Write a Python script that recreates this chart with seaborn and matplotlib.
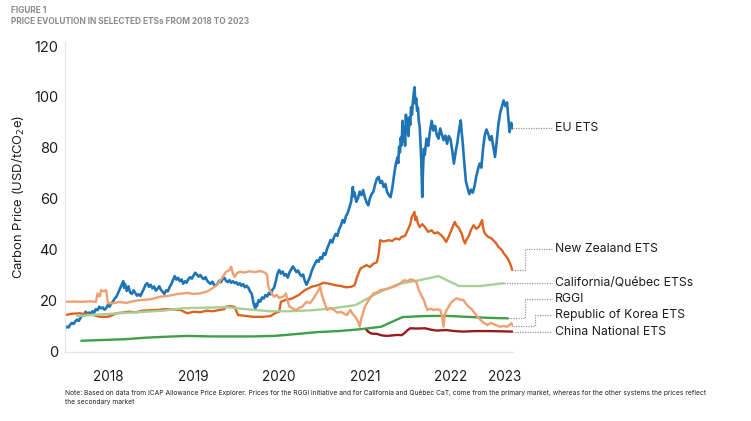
import pandas as pd
import matplotlib
matplotlib.use("Agg")
import matplotlib.pyplot as plt
import matplotlib.transforms as mtransforms
import seaborn as sns

# Data (decimal year, USD/tCO2e)
eu_points = [
    (2018.00, 9.0), (2018.02, 9.8), (2018.04, 9.4), (2018.06, 10.5), (2018.08, 11.2), (2018.10, 10.8),
    (2018.12, 11.8), (2018.14, 12.5), (2018.16, 12.0), (2018.18, 13.2), (2018.20, 14.5), (2018.22, 14.0),
    (2018.24, 15.6), (2018.26, 14.9), (2018.28, 15.3), (2018.30, 14.6), (2018.32, 15.8), (2018.34, 15.2),
    (2018.36, 16.6), (2018.38, 16.2), (2018.40, 17.6), (2018.42, 16.9), (2018.44, 17.3), (2018.46, 16.4),
    (2018.48, 17.0), (2018.50, 18.3), (2018.52, 17.6), (2018.54, 18.9), (2018.56, 19.6), (2018.58, 20.8),
    (2018.60, 21.5), (2018.62, 23.0), (2018.64, 24.5), (2018.66, 26.0), (2018.68, 27.6), (2018.69, 25.0),
    (2018.70, 26.5), (2018.72, 23.8), (2018.74, 25.6), (2018.76, 23.2), (2018.78, 22.6), (2018.80, 24.0),
    (2018.82, 23.0), (2018.84, 21.9), (2018.86, 22.5), (2018.88, 21.8), (2018.90, 23.2), (2018.92, 24.6),
    (2018.94, 26.2), (2018.96, 26.8), (2018.98, 25.4), (2019.00, 26.2), (2019.02, 24.8), (2019.04, 25.5),
    (2019.06, 23.9), (2019.08, 24.6), (2019.10, 25.6), (2019.12, 24.2), (2019.14, 23.4), (2019.16, 22.6),
    (2019.18, 24.0), (2019.20, 23.6), (2019.22, 25.2), (2019.24, 26.4), (2019.26, 28.0), (2019.28, 29.6),
    (2019.30, 28.2), (2019.32, 28.9), (2019.34, 27.6), (2019.36, 28.3), (2019.38, 26.6), (2019.40, 27.6),
    (2019.42, 27.0), (2019.44, 28.4), (2019.46, 29.2), (2019.48, 28.6), (2019.50, 29.8), (2019.52, 30.9),
    (2019.54, 30.2), (2019.56, 29.4), (2019.58, 30.0), (2019.60, 29.0), (2019.62, 28.4), (2019.64, 29.2),
    (2019.66, 27.8), (2019.68, 27.0), (2019.70, 26.6), (2019.72, 27.4), (2019.74, 26.2), (2019.76, 25.8),
    (2019.78, 26.6), (2019.80, 27.8), (2019.82, 27.2), (2019.84, 28.4), (2019.86, 28.9), (2019.88, 27.8),
    (2019.90, 27.2), (2019.92, 28.0), (2019.94, 27.0), (2019.96, 27.6), (2019.98, 26.8), (2020.00, 27.2),
    (2020.02, 26.2), (2020.04, 26.8), (2020.06, 25.8), (2020.08, 26.4), (2020.10, 25.2), (2020.12, 25.8),
    (2020.14, 25.0), (2020.16, 23.6), (2020.18, 22.6), (2020.20, 19.0), (2020.22, 16.9), (2020.23, 18.6),
    (2020.24, 17.8), (2020.26, 20.2), (2020.28, 19.6), (2020.30, 21.2), (2020.32, 20.8), (2020.34, 22.2),
    (2020.36, 21.6), (2020.38, 23.0), (2020.40, 22.4), (2020.42, 24.2), (2020.44, 25.0), (2020.46, 27.5),
    (2020.48, 30.5), (2020.50, 32.0), (2020.52, 30.6), (2020.54, 31.4), (2020.56, 29.8), (2020.58, 30.4),
    (2020.60, 29.0), (2020.62, 31.0), (2020.64, 32.2), (2020.66, 33.4), (2020.68, 32.4), (2020.70, 31.2),
    (2020.72, 31.8), (2020.74, 30.4), (2020.76, 29.6), (2020.78, 30.2), (2020.80, 27.6), (2020.82, 26.2),
    (2020.84, 27.8), (2020.86, 29.4), (2020.88, 31.6), (2020.90, 33.2), (2020.92, 34.6), (2020.94, 35.8),
    (2020.96, 35.2), (2020.98, 37.0), (2021.00, 36.4), (2021.02, 38.6), (2021.04, 38.0), (2021.06, 40.4),
    (2021.08, 42.0), (2021.10, 43.8), (2021.12, 42.8), (2021.14, 44.8), (2021.16, 46.2), (2021.18, 45.4),
    (2021.20, 48.0), (2021.22, 49.4), (2021.24, 51.6), (2021.26, 50.6), (2021.28, 53.2), (2021.30, 54.4),
    (2021.32, 56.6), (2021.34, 58.8), (2021.36, 64.6), (2021.37, 61.0), (2021.38, 62.4), (2021.40, 58.8),
    (2021.42, 60.2), (2021.44, 62.8), (2021.46, 61.4), (2021.48, 63.4), (2021.50, 60.6), (2021.52, 58.6),
    (2021.54, 57.4), (2021.56, 60.2), (2021.58, 61.8), (2021.60, 62.8), (2021.62, 65.6), (2021.64, 67.8),
    (2021.66, 68.6), (2021.68, 66.2), (2021.70, 67.0), (2021.72, 64.6), (2021.74, 65.8), (2021.76, 62.6),
    (2021.78, 61.4), (2021.80, 60.6), (2021.82, 64.0), (2021.84, 69.0), (2021.86, 73.4), (2021.88, 76.2),
    (2021.89, 74.0), (2021.90, 80.4), (2021.91, 78.2), (2021.92, 84.0), (2021.93, 81.0), (2021.94, 90.6),
    (2021.95, 82.4), (2021.96, 88.2), (2021.97, 80.8), (2021.98, 93.0), (2021.99, 86.0), (2022.00, 91.4),
    (2022.01, 84.6), (2022.02, 92.0), (2022.03, 89.0), (2022.04, 96.0), (2022.05, 93.0), (2022.06, 97.6),
    (2022.07, 101.0), (2022.08, 103.8), (2022.09, 97.4), (2022.10, 99.4), (2022.11, 94.6), (2022.12, 95.8),
    (2022.13, 90.6), (2022.14, 88.4), (2022.15, 82.0), (2022.16, 74.0), (2022.17, 60.7), (2022.18, 72.0),
    (2022.19, 79.6), (2022.20, 77.2), (2022.22, 83.6), (2022.24, 80.8), (2022.26, 86.4), (2022.28, 90.6),
    (2022.30, 86.8), (2022.32, 88.6), (2022.34, 85.0), (2022.36, 83.6), (2022.38, 87.6), (2022.40, 85.2),
    (2022.42, 83.0), (2022.44, 84.8), (2022.46, 81.6), (2022.48, 84.6), (2022.50, 83.4), (2022.52, 79.0),
    (2022.54, 73.8), (2022.56, 78.4), (2022.58, 82.0), (2022.60, 87.0), (2022.62, 90.8), (2022.63, 86.4),
    (2022.64, 83.0), (2022.66, 74.6), (2022.68, 66.8), (2022.70, 64.2), (2022.72, 61.8), (2022.74, 63.6),
    (2022.76, 62.4), (2022.78, 64.8), (2022.80, 68.6), (2022.82, 71.4), (2022.84, 73.8), (2022.86, 72.2),
    (2022.88, 79.6), (2022.90, 85.0), (2022.92, 87.2), (2022.94, 85.4), (2022.96, 83.0), (2022.98, 84.6),
    (2023.00, 80.6), (2023.02, 76.4), (2023.04, 82.6), (2023.06, 89.4), (2023.08, 93.6), (2023.10, 96.2),
    (2023.12, 98.6), (2023.14, 96.4), (2023.16, 97.8), (2023.18, 90.0), (2023.19, 86.2), (2023.21, 89.8),
    (2023.23, 87.6),
]

nz_points = [
    (2018.00, 14.3), (2018.08, 14.8), (2018.17, 15.0), (2018.25, 14.6), (2018.33, 14.3), (2018.41, 13.6),
    (2018.50, 13.6), (2018.55, 14.2), (2018.60, 15.0), (2018.68, 15.3), (2018.75, 15.6), (2018.83, 15.4),
    (2018.90, 16.0), (2019.00, 16.2), (2019.08, 16.3), (2019.17, 16.6), (2019.25, 16.5), (2019.35, 16.3),
    (2019.40, 15.4), (2019.43, 15.0), (2019.50, 15.6), (2019.58, 15.4), (2019.65, 16.0), (2019.73, 15.8),
    (2019.80, 16.3), (2019.86, 16.6), (2019.88, 17.6), (2019.93, 17.8), (2019.98, 17.5), (2020.02, 14.3),
    (2020.10, 14.0), (2020.20, 13.6), (2020.30, 13.6), (2020.40, 13.9), (2020.45, 15.0), (2020.50, 15.6),
    (2020.52, 19.5), (2020.57, 20.2), (2020.65, 20.8), (2020.73, 22.2), (2020.80, 24.1), (2020.88, 25.4),
    (2020.96, 26.1), (2021.02, 27.0), (2021.10, 26.5), (2021.16, 26.0), (2021.22, 25.7), (2021.28, 25.2),
    (2021.34, 25.4), (2021.38, 26.0), (2021.41, 29.3), (2021.45, 32.6), (2021.52, 33.9), (2021.56, 33.2),
    (2021.60, 34.5), (2021.64, 35.0), (2021.66, 38.0), (2021.68, 43.7), (2021.72, 43.2), (2021.78, 43.7),
    (2021.82, 43.4), (2021.86, 44.4), (2021.90, 44.0), (2021.93, 45.0), (2021.97, 45.4), (2022.00, 47.6),
    (2022.03, 50.0), (2022.05, 52.9), (2022.08, 54.8), (2022.09, 51.6), (2022.10, 53.0), (2022.12, 50.3),
    (2022.14, 48.9), (2022.17, 50.0), (2022.20, 48.9), (2022.24, 47.0), (2022.28, 47.6), (2022.31, 46.4),
    (2022.35, 46.8), (2022.39, 45.7), (2022.42, 44.6), (2022.45, 43.0), (2022.48, 45.2), (2022.51, 47.6),
    (2022.55, 50.9), (2022.57, 49.4), (2022.59, 48.9), (2022.63, 46.4), (2022.65, 44.0), (2022.67, 42.4),
    (2022.69, 44.2), (2022.71, 45.0), (2022.74, 47.8), (2022.77, 49.6), (2022.80, 48.2), (2022.83, 48.9),
    (2022.85, 50.2), (2022.87, 51.6), (2022.88, 48.6), (2022.90, 46.4), (2022.94, 45.0), (2022.97, 44.6),
    (2023.00, 43.7), (2023.03, 42.6), (2023.06, 41.1), (2023.10, 39.8), (2023.12, 38.6), (2023.14, 37.8),
    (2023.17, 36.4), (2023.19, 35.0), (2023.21, 33.2), (2023.22, 32.0),
]

ca_points = [
    (2018.14, 13.9), (2018.39, 14.5), (2018.64, 15.0), (2018.89, 15.5), (2019.14, 16.0), (2019.39, 17.0),
    (2019.64, 17.2), (2019.89, 17.4), (2020.14, 16.5), (2020.39, 15.8), (2020.64, 15.8), (2020.89, 16.2),
    (2021.14, 17.0), (2021.39, 18.2), (2021.64, 22.8), (2021.89, 26.5), (2022.14, 28.0), (2022.36, 29.6),
    (2022.60, 25.7), (2022.85, 25.7), (2023.12, 26.8),
]

rggi_points = [
    (2018.19, 4.2), (2018.44, 4.5), (2018.69, 4.8), (2018.94, 5.4), (2019.19, 5.8), (2019.44, 6.1),
    (2019.69, 5.9), (2019.94, 5.9), (2020.19, 5.9), (2020.44, 6.1), (2020.69, 6.8), (2020.94, 7.6),
    (2021.19, 8.0), (2021.44, 8.7), (2021.69, 9.7), (2021.94, 13.5), (2022.19, 13.9), (2022.44, 14.0),
    (2022.69, 13.6), (2022.94, 13.2), (2023.17, 13.0),
]

kr_points = [
    (2018.00, 19.5), (2018.10, 19.6), (2018.20, 19.5), (2018.30, 19.7), (2018.36, 19.5), (2018.38, 22.8),
    (2018.40, 21.6), (2018.41, 22.0), (2018.42, 24.1), (2018.45, 23.6), (2018.48, 24.1), (2018.50, 19.0),
    (2018.55, 18.9), (2018.63, 19.4), (2018.72, 19.1), (2018.80, 19.8), (2018.88, 20.2), (2019.00, 20.5),
    (2019.11, 21.5), (2019.20, 21.8), (2019.30, 22.5), (2019.43, 23.0), (2019.50, 22.6), (2019.58, 22.8),
    (2019.66, 23.6), (2019.72, 24.8), (2019.77, 26.0), (2019.82, 28.2), (2019.88, 31.3), (2019.92, 32.0),
    (2019.94, 33.3), (2019.96, 30.6), (2019.98, 29.3), (2020.01, 30.8), (2020.04, 31.3), (2020.10, 31.0),
    (2020.15, 31.5), (2020.22, 31.2), (2020.28, 31.6), (2020.33, 31.0), (2020.36, 30.0), (2020.37, 26.4),
    (2020.38, 24.8), (2020.41, 23.0), (2020.44, 21.5), (2020.47, 22.2), (2020.50, 21.0), (2020.55, 21.6),
    (2020.58, 22.8), (2020.60, 19.6), (2020.62, 17.6), (2020.66, 16.8), (2020.70, 16.3), (2020.74, 17.2),
    (2020.77, 17.6), (2020.82, 19.5), (2020.86, 19.0), (2020.90, 20.8), (2020.94, 22.9), (2020.96, 24.0),
    (2020.98, 25.4), (2021.00, 22.0), (2021.02, 20.0), (2021.06, 16.3), (2021.10, 17.0), (2021.14, 16.3),
    (2021.18, 15.2), (2021.22, 15.6), (2021.26, 14.8), (2021.29, 14.3), (2021.33, 16.3), (2021.36, 14.6),
    (2021.39, 13.6), (2021.42, 11.8), (2021.44, 9.7), (2021.46, 13.0), (2021.48, 15.2), (2021.50, 17.6),
    (2021.55, 20.4), (2021.60, 22.8), (2021.64, 23.2), (2021.68, 24.1), (2021.76, 24.6), (2021.84, 25.4),
    (2021.90, 26.4), (2021.96, 28.0), (2022.00, 27.6), (2022.03, 28.3), (2022.07, 28.0), (2022.10, 27.4),
    (2022.13, 24.1), (2022.16, 22.0), (2022.19, 20.2), (2022.21, 18.0), (2022.23, 16.3), (2022.27, 16.8),
    (2022.30, 16.3), (2022.34, 16.6), (2022.38, 16.3), (2022.40, 14.0), (2022.42, 9.7), (2022.43, 14.0),
    (2022.45, 16.0), (2022.48, 17.6), (2022.50, 18.9), (2022.54, 20.2), (2022.57, 20.9), (2022.61, 20.4),
    (2022.65, 20.2), (2022.68, 18.8), (2022.71, 17.6), (2022.74, 16.8), (2022.77, 15.6), (2022.81, 13.8),
    (2022.85, 12.4), (2022.89, 11.2), (2022.93, 10.4), (2022.97, 11.2), (2023.00, 10.8), (2023.04, 10.2),
    (2023.08, 9.7), (2023.12, 10.0), (2023.16, 9.7), (2023.19, 10.4), (2023.21, 11.1), (2023.23, 10.0),
]

cn_points = [
    (2021.52, 8.4), (2021.55, 7.5), (2021.58, 7.0), (2021.64, 6.9), (2021.70, 6.3), (2021.76, 6.1),
    (2021.82, 6.3), (2021.88, 6.5), (2021.93, 6.4), (2021.96, 7.1), (2022.00, 8.4), (2022.03, 9.1),
    (2022.10, 9.0), (2022.20, 9.1), (2022.28, 8.5), (2022.34, 8.2), (2022.45, 8.4), (2022.55, 8.0),
    (2022.64, 7.8), (2022.80, 8.0), (2022.95, 8.0), (2023.10, 7.9), (2023.22, 7.8),
]

year_ticks = [2019, 2020, 2021, 2022, 2023]
year_label_pos = [2018.5, 2019.5, 2020.5, 2021.5, 2022.5, 2023.13]
year_labels = ["2018", "2019", "2020", "2021", "2022", "2023"]

# name, points, colour, label value, elbow x (axes fraction, None = straight connector)
series = [
    ("EU ETS", eu_points, "#1f74b6", 86.1, None),
    ("New Zealand ETS", nz_points, "#dc6423", 40.2, 1.027),
    ("California/Québec ETSs", ca_points, "#a9cf97", 27.3, None),
    ("RGGI", rggi_points, "#3f9f4a", 20.6, 1.027),
    ("Republic of Korea ETS", kr_points, "#eea071", 14.5, 1.049),
    ("China National ETS", cn_points, "#981b1e", 8.0, None),
]

sns.set_theme(style="white")
plt.rcParams['font.family'] = ['Inter', 'DejaVu Sans']

fig = plt.figure(figsize=(7.51, 4.21), dpi=100)
ax = fig.add_axes([0.0866, 0.164, 0.5965, 0.737])

x0, x1 = 2018.0, 2023.23
for name, pts, color, lab_y, elbow in series:
    df = pd.DataFrame(pts, columns=["year", "price"])
    lw = 1.9 if name == "EU ETS" else 1.7
    sns.lineplot(data=df, x="year", y="price", color=color, linewidth=lw,
                 estimator=None, ax=ax)

ax.set_xlim(x0, x1)
ax.set_ylim(-0.2, 121.7)

# dotted connectors to the labels on the right
trans = mtransforms.blended_transform_factory(ax.transAxes, ax.transData)
for name, pts, color, lab_y, elbow in series:
    xs = (pts[-1][0] - x0) / (x1 - x0)
    ye = pts[-1][1]
    if elbow is None:
        px, py = [xs, 1.087], [ye, ye]
        lab_y = ye
    else:
        px, py = [xs, elbow, elbow, 1.087], [ye, ye, lab_y, lab_y]
    ax.plot(px, py, transform=trans, clip_on=False, color="#9a9a9a",
            linewidth=0.9, linestyle=(0, (1, 1)))
    ax.text(1.094, lab_y, name, transform=trans, fontsize=8.8,
            color="#1e1e1e", va="center", ha="left")

ax.set_yticks([0, 20, 40, 60, 80, 100, 120])
ax.set_xticks(year_ticks)
ax.set_xticklabels([])
ax.set_xticks(year_label_pos, minor=True)
ax.set_xticklabels(year_labels, minor=True)
ax.tick_params(axis="x", which="major", direction="in", length=4, color="#e2e2e2", width=1)
ax.tick_params(axis="x", which="minor", length=0, pad=13, labelsize=9.8, labelcolor="#1e1e1e")
ax.tick_params(axis="y", length=0, pad=5, labelsize=10.5, labelcolor="#1e1e1e")

ax.set_xlabel("")
ax.set_ylabel("Carbon Price (USD/tCO$_2$e)", fontsize=9.4, color="#1e1e1e", labelpad=5)

sns.despine(ax=ax)
for side in ["left", "bottom"]:
    ax.spines[side].set_color("#e6e6e6")
    ax.spines[side].set_linewidth(1)

fig.text(0.015, 0.986, "FIGURE 1", fontsize=6, fontweight="bold", color="#8c8c8c", va="top")
fig.text(0.015, 0.960, "PRICE EVOLUTION IN SELECTED ETSs FROM 2018 TO 2023", fontsize=6,
         fontweight="bold", color="#8c8c8c", va="top")
fig.text(0.086, 0.057,
         "Note: Based on data from ICAP Allowance Price Explorer. Prices for the RGGI initiative and for "
         "California and Québec CaT, come from the primary market, whereas for the other systems the prices reflect\n"
         "the secondary market",
         fontsize=4.8, color="#222222", va="center", linespacing=1.6)

fig.savefig("out.png", dpi=100)
